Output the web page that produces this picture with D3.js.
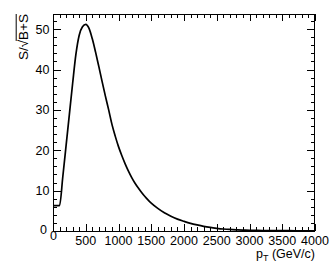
<!DOCTYPE html>
<html><head><meta charset="utf-8">
<script src="https://cdn.jsdelivr.net/npm/d3@7"></script>
<style>body{margin:0;background:#fff}svg{display:block}text{font-family:"Liberation Sans",Arial,sans-serif}</style>
</head><body>
<script>
const ptValues = [0,100,150,200,250,300,350,400,450,500,550,600,650,700,750,800,850,900,950,1000,1050,1100,1150,1200,1250,1300,1350,1400,1450,1500,1600,1700,1800,1900,2000,2100,2200,2300,2400,2500,2600,2700,2800,2900,3000,3200,3400,3600,3800,4000];
const significance = [6.3,6.3,13.5,21.2,28.9,36.6,43.8,48.5,50.6,51.2,50.2,47.6,44.3,40.7,37.0,33.4,30.0,26.4,23.5,20.9,18.7,16.7,14.9,13.3,11.9,10.7,9.6,8.6,7.7,6.9,5.6,4.5,3.65,2.95,2.4,1.9,1.5,1.15,0.88,0.67,0.5,0.38,0.3,0.24,0.19,0.13,0.09,0.07,0.05,0.04];
const xTicks = [0,500,1000,1500,2000,2500,3000,3500,4000];
const yTicks = [0,10,20,30,40,50];
const xTitle = "p";
const xTitleSub = "T";
const xTitleRest = " (GeV/c)";

const W=332,H=276;
const L=53,R=315,T=14,B=231;
const svg=d3.select("body").append("svg").attr("width",W).attr("height",H);
const x=d3.scaleLinear().domain([0,4000]).range([L,R]);
const y=d3.scaleLinear().domain([0,53.75]).range([B,T]);

const g=svg.append("g").attr("stroke","#000").attr("stroke-width",1).attr("shape-rendering","crispEdges");
d3.range(0,4001,100).forEach(v=>{
  const len = v%500===0?7:4;
  const px=Math.round(x(v))+0.5;
  g.append("line").attr("x1",px).attr("x2",px).attr("y1",B).attr("y2",B-len);
  g.append("line").attr("x1",px).attr("x2",px).attr("y1",T).attr("y2",T+len);
});
d3.range(0,53.75,2).forEach(v=>{
  const len = v%10===0?8:4;
  const py=Math.round(y(v))+0.5;
  g.append("line").attr("x1",L).attr("x2",L+len).attr("y1",py).attr("y2",py);
  g.append("line").attr("x1",R).attr("x2",R-len).attr("y1",py).attr("y2",py);
});
g.append("rect").attr("x",L+0.5).attr("y",T+0.5).attr("width",R-L-1).attr("height",B-T).attr("fill","none");

svg.append("path").datum(ptValues.map((p,i)=>[p,significance[i]]))
  .attr("fill","none").attr("stroke","#000").attr("stroke-width",1.7).attr("stroke-linejoin","round")
  .attr("d",d3.line().x(d=>x(d[0])).y(d=>y(d[1])).curve(d3.curveMonotoneX));

const fs=12.5;
svg.selectAll(".xl").data(xTicks).enter().append("text")
  .attr("x",d=>d===0?x(d)+0.5:x(d)).attr("y",d=>d===0?239.5:244.5)
  .attr("text-anchor","middle").attr("font-size",fs).text(d=>d);
svg.selectAll(".yl").data(yTicks).enter().append("text")
  .attr("x",d=>d===0?47:49.5).attr("y",d=>d===0?y(d)+3:y(d)+4.5)
  .attr("text-anchor","end").attr("font-size",fs).text(d=>d);

const xt=svg.append("text").attr("x",R).attr("y",258).attr("text-anchor","end").attr("font-size",fs);
xt.append("tspan").text(xTitle);
xt.append("tspan").attr("font-size",9).attr("dy",3).text(xTitleSub);
xt.append("tspan").attr("dy",-3).text(xTitleRest);

const yt=svg.append("text").attr("transform",`translate(28,${T}) rotate(-90)`).attr("text-anchor","end").attr("font-size",13.5);
yt.append("tspan").text("S/\u221A");
const bs=yt.append("tspan").text("B+S");
const bb=bs.node().getBBox();
svg.append("line").attr("transform",`translate(28,${T}) rotate(-90)`)
  .attr("x1",bb.x-1).attr("x2",bb.x+bb.width).attr("y1",-11.8).attr("y2",-11.8)
  .attr("stroke","#000").attr("stroke-width",1);
</script>
</body></html>
